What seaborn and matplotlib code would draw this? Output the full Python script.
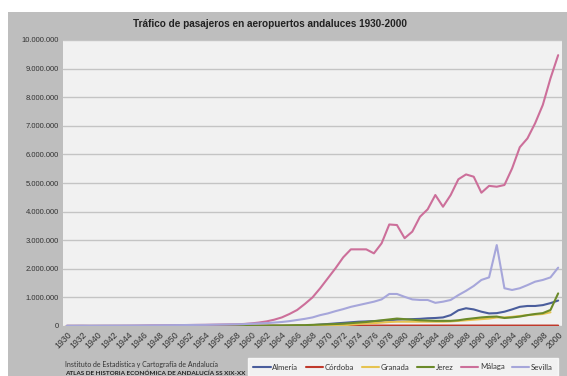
import numpy as np
import pandas as pd
import matplotlib
matplotlib.use("Agg")
import matplotlib.pyplot as plt
import matplotlib.patches as mpatches
import seaborn as sns

years = [1930, 1931, 1932, 1939] + list(range(1940, 2001))
nan = np.nan

# values in millions of passengers
malaga = [0.005, 0.005, 0.006, 0.004, 0.005, 0.006, 0.006, 0.007, 0.008, 0.010,
          0.015, 0.020, 0.022, 0.025, 0.030, 0.032, 0.035, 0.038, 0.040, 0.045,
          0.050, 0.055, 0.060, 0.070, 0.090, 0.12, 0.16, 0.22, 0.30, 0.42,
          0.56, 0.77, 1.00, 1.32, 1.67, 2.02, 2.40, 2.68, 2.68, 2.68,
          2.54, 2.89, 3.55, 3.53, 3.07, 3.30, 3.82, 4.08, 4.58, 4.17,
          4.58, 5.13, 5.30, 5.22, 4.66, 4.90, 4.87, 4.93, 5.51, 6.25,
          6.56, 7.09, 7.73, 8.66, 9.47]
sevilla = [0.010, 0.010, 0.012, 0.010, 0.012, 0.013, 0.014, 0.015, 0.016, 0.018,
           0.020, 0.022, 0.025, 0.027, 0.030, 0.032, 0.035, 0.038, 0.040, 0.045,
           0.050, 0.055, 0.060, 0.065, 0.080, 0.09, 0.10, 0.12, 0.14, 0.17,
           0.21, 0.25, 0.30, 0.38, 0.44, 0.52, 0.59, 0.67, 0.73, 0.79,
           0.85, 0.93, 1.12, 1.12, 1.02, 0.93, 0.91, 0.91, 0.81, 0.85,
           0.91, 1.08, 1.23, 1.40, 1.61, 1.70, 2.83, 1.32, 1.26, 1.32,
           1.43, 1.55, 1.61, 1.70, 2.04]
almeria = [0.0] * 32 + [0.03, 0.05, 0.07, 0.09, 0.11, 0.13, 0.15, 0.16,
           0.17, 0.18, 0.20, 0.22, 0.23, 0.24, 0.25, 0.27, 0.28, 0.30,
           0.38, 0.55, 0.62, 0.58, 0.50, 0.44, 0.45, 0.50, 0.58, 0.67,
           0.70, 0.70, 0.73, 0.80, 0.89]
jerez = [0.0] * 24 + [0.010, 0.010, 0.015, 0.020, 0.020, 0.025,
         0.030, 0.030, 0.040, 0.050, 0.060, 0.070, 0.080, 0.10, 0.12, 0.14,
         0.17, 0.20, 0.23, 0.26, 0.24, 0.22, 0.20, 0.19, 0.18, 0.18,
         0.18, 0.20, 0.24, 0.27, 0.30, 0.32, 0.33, 0.28, 0.30, 0.33,
         0.38, 0.42, 0.45, 0.56, 1.14]
granada = [0.0] * 36 + [0.02, 0.05, 0.07, 0.09,
           0.10, 0.12, 0.14, 0.15, 0.15, 0.15, 0.15, 0.15, 0.15, 0.15,
           0.16, 0.18, 0.20, 0.22, 0.24, 0.26, 0.30, 0.30, 0.32, 0.35,
           0.38, 0.40, 0.42, 0.48, nan]
cordoba = [0.0] * 19 + [0.005] * 6 + [0.01] * 10 + [0.015] * 30

series = ["Almería", "Córdoba", "Granada", "Jerez", "Málaga", "Sevilla"]
values = [almeria, cordoba, granada, jerez, malaga, sevilla]
colors = ["#4a5d9c", "#c0392b", "#e6c350", "#6b8a2a", "#cc6f9a", "#a6a6da"]

rows = []
for name, vals in zip(series, values):
    for i, (y, v) in enumerate(zip(years, vals)):
        rows.append({"idx": i, "year": y, "serie": name, "value": v * 1e6})
df = pd.DataFrame(rows)

sns.set_style("white")
plt.rcParams["font.family"] = ["Liberation Sans", "DejaVu Sans"]

fig = plt.figure(figsize=(5.67, 3.76), dpi=100)
fig.patch.set_facecolor("white")
fig.patches.append(mpatches.Rectangle((8 / 567, 0), 1, 1 - 12 / 376,
                                      transform=fig.transFigure,
                                      facecolor="#bebebe", edgecolor="none",
                                      zorder=-10))
ax = fig.add_axes([63 / 567, 50 / 376, (562 - 63) / 567, (326 - 40) / 376])
ax.set_facecolor("#f1f1f1")

sns.lineplot(data=df, x="idx", y="value", hue="serie", hue_order=series,
             palette=colors, linewidth=1.5, ax=ax, legend=False, sort=False)

n = len(years)
ax.set_xlim(-0.5, n - 0.5)
ax.set_ylim(0, 10e6)
ax.set_yticks(np.arange(0, 10e6 + 1, 1e6))
ax.set_yticklabels([f"{int(v):,}".replace(",", ".") for v in np.arange(0, 10e6 + 1, 1e6)],
                   fontsize=5.5, color="#333333")
ax.set_xticks(range(0, n, 2))
ax.set_xticklabels([str(years[i]) for i in range(0, n, 2)], rotation=45,
                   ha="right", va="top", rotation_mode="anchor",
                   fontsize=6.3, color="#333333")
ax.tick_params(axis="both", length=0, pad=3)
ax.yaxis.grid(True, color="#c4c4c4", linewidth=1.0)
ax.set_axisbelow(True)
for s in ax.spines.values():
    s.set_visible(False)
ax.set_xlabel("")
ax.set_ylabel("")

fig.text(270 / 567, 1 - 24 / 376,
         "Tráfico de pasajeros en aeropuertos andaluces 1930-2000",
         ha="center", va="center", fontsize=7.2, fontweight="bold", color="#222222")

fig.text(65 / 567, 1 - 364 / 376,
         "Instituto de Estadística y Cartografía de Andalucía",
         ha="left", va="center", fontsize=5.0, color="#333333", family=["Lato", "DejaVu Sans"])
fig.text(65 / 567, 1 - 373 / 376,
         "ATLAS DE HISTORIA ECONÓMICA DE ANDALUCÍA SS XIX-XX",
         ha="left", va="center", fontsize=4.6, fontweight="bold", color="#222222",
         family=["Lato", "DejaVu Sans"])

handles = [plt.Line2D([], [], color=c, linewidth=1.5) for c in colors]
leg = fig.legend(handles, series, loc="center left",
                 bbox_to_anchor=(248 / 567, 1 - 367 / 376), ncol=6,
                 frameon=True, fancybox=False, handlelength=2.2,
                 columnspacing=1.0, handletextpad=0.2, borderpad=0.7,
                 borderaxespad=0,
                 prop={"family": ["Lato", "DejaVu Sans"], "size": 5.6})
leg.get_frame().set_facecolor("white")
leg.get_frame().set_edgecolor("white")
for t in leg.get_texts():
    t.set_color("#333333")

fig.savefig("out.png", dpi=100, facecolor=fig.get_facecolor())
